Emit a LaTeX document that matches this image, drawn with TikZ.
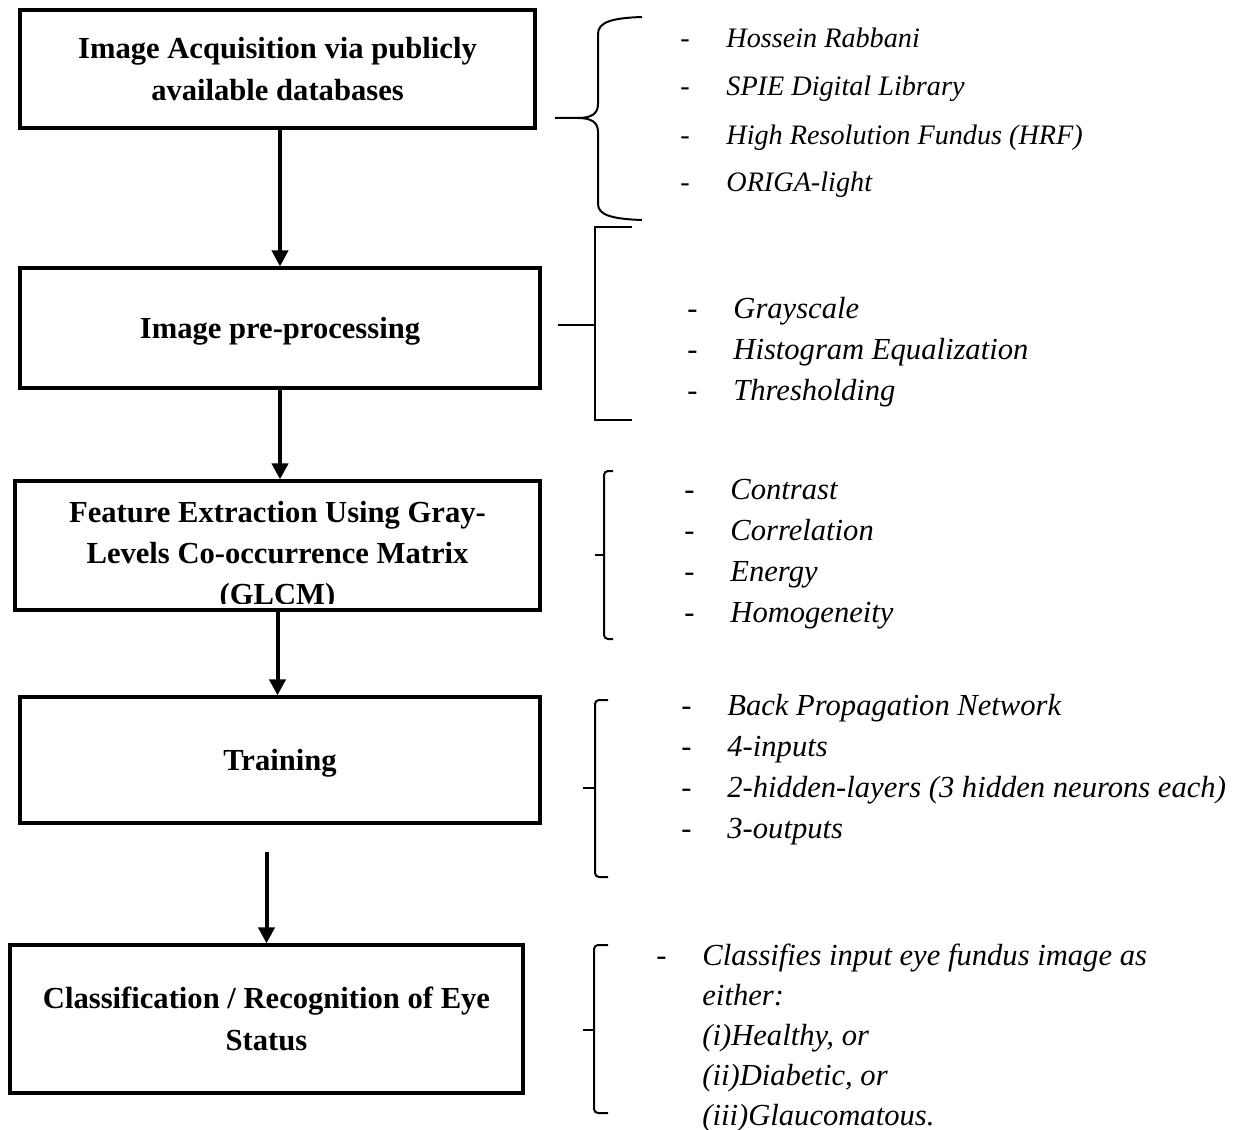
\documentclass[tikz,border=0pt]{standalone}
\usepackage{fontspec}
\setmainfont{Liberation Serif}
\usetikzlibrary{arrows.meta}

\begin{document}
\begin{tikzpicture}[x=0.5pt, y=-0.5pt,
    stage/.style={draw, line width=1.6pt, align=center, inner sep=0pt,
        font=\fontsize{15.3}{21}\selectfont\bfseries},
    flow/.style={line width=2pt, -{Triangle[width=8pt,length=8pt]}},
    brace/.style={line width=1pt, rounded corners=2pt},
    items/.style={anchor=base west, inner sep=0pt,
        font=\fontsize{15.3}{#1}\selectfont\itshape}
]
\useasboundingbox (0,0) rectangle (1236,1129);

% stages
\node[stage, minimum width=257.5pt, minimum height=59pt] (acq) at (277.5,69)
    {Image Acquisition via publicly\\available databases};
\node[stage, minimum width=260pt, minimum height=60pt, text depth=0pt] (prep) at (280,328)
    {Image pre-processing};
\node[stage, minimum width=262.5pt, minimum height=64.5pt] (feat) at (277.5,545.5) {};
\begin{scope}
    \clip (feat.north west) rectangle ([yshift=4pt]feat.south east);
    \node[font=\fontsize{15.3}{20.5}\selectfont\bfseries, align=center] (feattext) at (277.5,556)
        {Feature Extraction Using Gray-\\Levels Co-occurrence Matrix\\(GLCM)};
\end{scope}
\node[stage, minimum width=260pt, minimum height=63pt, text depth=0pt] (train) at (280,760)
    {Training};
\node[stage, minimum width=256.5pt, minimum height=74pt] (class) at (266.5,1019)
    {Classification / Recognition of Eye\\Status};

% arrows
\draw[flow] (prep.north |- acq.south) -- (prep.north);
\draw[flow] (prep.south) -- (prep.south |- feat.north);
\draw[flow] (feat.south) -- (feat.south |- train.north);
\coordinate (gap) at (266.5,852);
\draw[flow] (gap) -- (class.north);

% brackets
\draw[line width=1pt] (555,118) -- (578,118) .. controls (591,118) and (598,114) .. (598,104)
    -- (598,34) .. controls (598,22) and (612,18) .. (642,17);
\draw[line width=1pt] (578,118) .. controls (591,118) and (598,122) .. (598,132)
    -- (598,204) .. controls (598,215) and (612,219) .. (642,220);
\draw[line width=1pt] (558,325) -- (595,325);
\draw[line width=1pt] (632,227) -- (595,227) -- (595,420) -- (632,420);
\draw[brace] (613,471) -- (604,471) -- (604,639) -- (613,639);
\draw[brace] (595,555) -- (604,555);
\draw[brace] (608,700) -- (595,700) -- (595,877) -- (608,877);
\draw[brace] (583,788) -- (595,788);
\draw[brace] (608,945) -- (594,945) -- (594,1113) -- (608,1113);
\draw[brace] (583,1030) -- (594,1030);

% item lists
\node[items=24, font=\fontsize{14.1}{24}\selectfont\itshape] (srcs) at (680,48) {\begin{tabular}[t]{@{}l@{}}
    \makebox[23pt][l]{\upshape -}Hossein Rabbani\\
    \makebox[23pt][l]{\upshape -}SPIE Digital Library\\
    \makebox[23pt][l]{\upshape -}High Resolution Fundus (HRF)\\
    \makebox[23pt][l]{\upshape -}ORIGA-light
\end{tabular}};
\node[items=20.5] (steps) at (687,318) {\begin{tabular}[t]{@{}l@{}}
    \makebox[23pt][l]{\upshape -}Grayscale\\
    \makebox[23pt][l]{\upshape -}Histogram Equalization\\
    \makebox[23pt][l]{\upshape -}Thresholding
\end{tabular}};
\node[items=20.5] (feats) at (684,499) {\begin{tabular}[t]{@{}l@{}}
    \makebox[23pt][l]{\upshape -}Contrast\\
    \makebox[23pt][l]{\upshape -}Correlation\\
    \makebox[23pt][l]{\upshape -}Energy\\
    \makebox[23pt][l]{\upshape -}Homogeneity
\end{tabular}};
\node[items=20.5] (net) at (681,715) {\begin{tabular}[t]{@{}l@{}}
    \makebox[23pt][l]{\upshape -}Back Propagation Network\\
    \makebox[23pt][l]{\upshape -}4-inputs\\
    \makebox[23pt][l]{\upshape -}2-hidden-layers (3 hidden neurons each)\\
    \makebox[23pt][l]{\upshape -}3-outputs
\end{tabular}};
\node[items=20] (result) at (656,965) {\begin{tabular}[t]{@{}l@{}}
    \makebox[23pt][l]{\upshape -}Classifies input eye fundus image as\\
    \hspace{23pt}either:\\
    \hspace{23pt}(i)Healthy, or\\
    \hspace{23pt}(ii)Diabetic, or\\
    \hspace{23pt}(iii)Glaucomatous.
\end{tabular}};
\end{tikzpicture}
\end{document}
